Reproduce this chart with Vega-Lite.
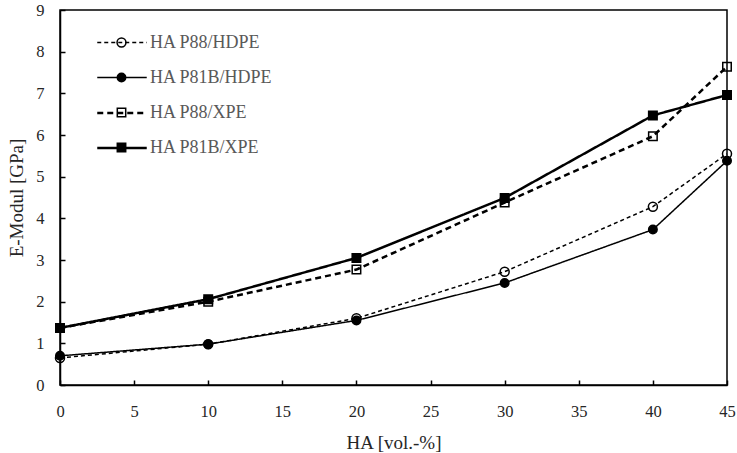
{
  "$schema": "https://vega.github.io/schema/vega-lite/v6.json",
  "width": 667,
  "height": 375,
  "autosize": {"type": "none"},
  "padding": {"left": 60, "top": 10, "right": 10, "bottom": 68},
  "background": "white",
  "data": {
    "values": [
      {"series": "HA P88/HDPE", "x": 0, "y": 0.65},
      {"series": "HA P88/HDPE", "x": 10, "y": 0.98},
      {"series": "HA P88/HDPE", "x": 20, "y": 1.6},
      {"series": "HA P88/HDPE", "x": 30, "y": 2.72},
      {"series": "HA P88/HDPE", "x": 40, "y": 4.28},
      {"series": "HA P88/HDPE", "x": 45, "y": 5.55},
      {"series": "HA P81B/HDPE", "x": 0, "y": 0.7},
      {"series": "HA P81B/HDPE", "x": 10, "y": 0.98},
      {"series": "HA P81B/HDPE", "x": 20, "y": 1.55},
      {"series": "HA P81B/HDPE", "x": 30, "y": 2.45},
      {"series": "HA P81B/HDPE", "x": 40, "y": 3.73},
      {"series": "HA P81B/HDPE", "x": 45, "y": 5.38},
      {"series": "HA P88/XPE", "x": 0, "y": 1.37},
      {"series": "HA P88/XPE", "x": 10, "y": 2.0},
      {"series": "HA P88/XPE", "x": 20, "y": 2.77},
      {"series": "HA P88/XPE", "x": 30, "y": 4.38},
      {"series": "HA P88/XPE", "x": 40, "y": 5.97},
      {"series": "HA P88/XPE", "x": 45, "y": 7.64},
      {"series": "HA P81B/XPE", "x": 0, "y": 1.37},
      {"series": "HA P81B/XPE", "x": 10, "y": 2.06},
      {"series": "HA P81B/XPE", "x": 20, "y": 3.05},
      {"series": "HA P81B/XPE", "x": 30, "y": 4.49},
      {"series": "HA P81B/XPE", "x": 40, "y": 6.47},
      {"series": "HA P81B/XPE", "x": 45, "y": 6.96}
    ]
  },
  "encoding": {
    "x": {
      "field": "x",
      "type": "quantitative",
      "scale": {"domain": [0, 45], "nice": false},
      "axis": {"title": "HA [vol.-%]", "values": [0, 5, 10, 15, 20, 25, 30, 35, 40, 45], "labelPadding": 23, "titlePadding": 14, "labelFlush": false}
    },
    "y": {
      "field": "y",
      "type": "quantitative",
      "scale": {"domain": [0, 9], "nice": false},
      "axis": {"title": "E-Modul [GPa]", "values": [0, 1, 2, 3, 4, 5, 6, 7, 8, 9], "labelPadding": 21, "titlePadding": 9}
    }
  },
  "layer": [
    {
      "mark": {"type": "line", "color": "black"},
      "encoding": {
        "strokeDash": {
          "field": "series",
          "type": "nominal",
          "scale": {"domain": ["HA P88/HDPE", "HA P81B/HDPE", "HA P88/XPE", "HA P81B/XPE"], "range": [[4, 3], [1, 0], [6, 4], [1, 0]]},
          "legend": {"title": null, "symbolType": "stroke", "labelColor": "#595959"}
        },
        "strokeWidth": {
          "field": "series",
          "type": "nominal",
          "scale": {"type": "ordinal", "domain": ["HA P88/HDPE", "HA P81B/HDPE", "HA P88/XPE", "HA P81B/XPE"], "range": [1.5, 1.5, 2.5, 2.5]},
          "legend": {"title": null, "symbolType": "stroke", "labelColor": "#595959"}
        }
      }
    },
    {
      "mark": {"type": "point", "size": 2500, "stroke": "black", "strokeWidth": 1.5, "opacity": 1},
      "encoding": {
        "shape": {
          "field": "series",
          "type": "nominal",
          "scale": {
            "domain": {"expr": "['HA P88/HDPE', 'HA P81B/HDPE', 'HA P88/XPE', 'HA P81B/XPE']"},
            "range": [
              "M0.18,0A0.18,0.18,0,1,1,-0.18,0A0.18,0.18,0,1,1,0.18,0Z",
              "M0.17,0A0.17,0.17,0,1,1,-0.17,0A0.17,0.17,0,1,1,0.17,0Z",
              "M-0.17,-0.17H0.17V0.17H-0.17Z",
              "M-0.17,-0.17H0.17V0.17H-0.17Z"
            ]
          },
          "legend": {
            "title": null,
            "labelColor": "transparent",
            "encode": {
              "symbols": {"stroke": {"value": "black"}, "strokeWidth": {"value": 1.5}}
            }
          }
        },
        "fill": {
          "field": "series",
          "type": "nominal",
          "scale": {
            "domain": {"expr": "['HA P88/HDPE', 'HA P81B/HDPE', 'HA P88/XPE', 'HA P81B/XPE']"},
            "range": ["transparent", "black", "transparent", "black"]
          },
          "legend": {
            "title": null,
            "labelColor": "transparent",
            "encode": {
              "symbols": {"stroke": {"value": "black"}, "strokeWidth": {"value": 1.5}}
            }
          }
        }
      }
    }
  ],
  "config": {
    "view": {"stroke": "black", "strokeWidth": 1.5},
    "axis": {
      "grid": false,
      "domainColor": "black",
      "domainWidth": 1.5,
      "tickColor": "black",
      "tickWidth": 1.5,
      "tickSize": -5,
      "labelFont": "Liberation Serif",
      "labelFontSize": 16.5,
      "labelColor": "#262626",
      "titleFont": "Liberation Serif",
      "titleFontSize": 19,
      "titleFontWeight": "normal",
      "titleColor": "#262626"
    },
    "legend": {
      "orient": "none",
      "legendX": 36,
      "legendY": 7,
      "padding": 0,
      "symbolSize": 2450,
      "rowPadding": -17,
      "labelOffset": 2,
      "labelFont": "Liberation Serif",
      "labelFontSize": 18,
      "labelLimit": 300
    }
  }
}
